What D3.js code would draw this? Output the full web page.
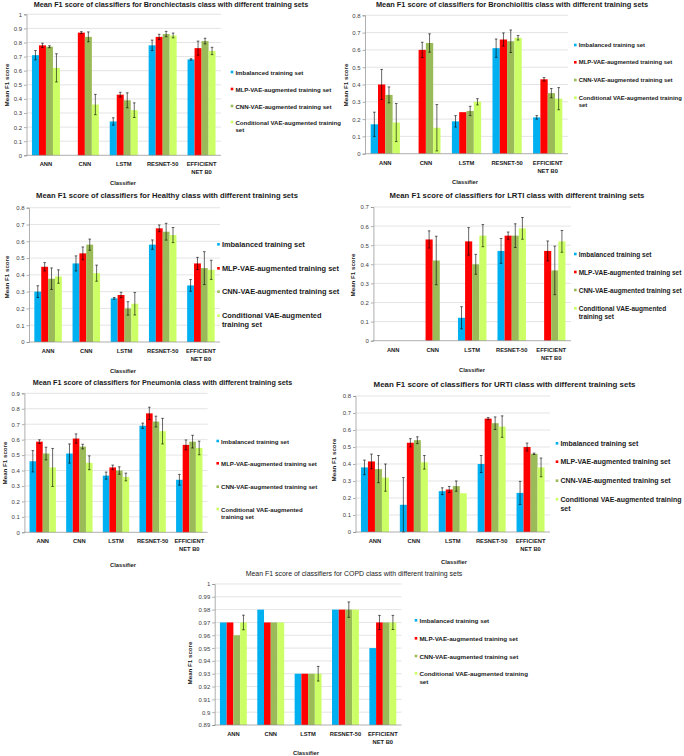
<!DOCTYPE html>
<html><head><meta charset="utf-8">
<script src="https://cdn.jsdelivr.net/npm/d3@7/dist/d3.min.js"></script>
<style>body{margin:0;background:#fff}svg{display:block}text{font-family:"Liberation Sans",Arial,sans-serif}</style>
</head><body><svg id="c" width="684" height="756"></svg>
<script>
const categories = ["ANN","CNN","LSTM","RESNET-50","EFFICIENT NET B0"];
const seriesNames = ["Imbalanced training set","MLP-VAE-augmented training set","CNN-VAE-augmented training set","Conditional VAE-augmented training set"];
const seriesColors = ["#00B0F0","#FF0000","#9BBB59","#CCFF66"];

// rows = series, columns = categories; null = no bar
const bronchiectasisMean = [[0.71,null,0.24,0.78,0.68],[0.78,0.87,0.43,0.84,0.76],[0.77,0.84,0.39,0.86,0.81],[0.62,0.36,0.32,0.85,0.74]];
const bronchiectasisErr  = [[0.033,null,0.026,0.037,0.005],[0.015,0.007,0.017,0.018,0.05],[0.007,0.035,0.053,0.019,0.02],[0.10,0.072,0.052,0.017,0.026]];
const bronchiolitisMean = [[0.17,null,0.187,0.61,0.21],[0.40,0.60,0.24,0.66,0.43],[0.34,0.64,0.247,0.65,0.35],[0.18,0.15,0.30,0.67,0.318]];
const bronchiolitisErr  = [[0.07,null,0.033,0.053,0.01],[0.087,0.044,null,0.038,0.01],[0.046,0.053,0.027,0.065,0.027],[0.11,0.134,0.018,0.013,0.064]];
const healthyMean = [[0.30,0.468,0.26,0.58,0.337],[0.448,0.528,0.28,0.677,0.468],[0.377,0.58,0.20,0.657,0.44],[0.39,0.41,0.228,0.637,0.43]];
const healthyErr  = [[0.035,0.045,0.005,0.028,0.035],[0.025,0.038,0.016,0.02,0.036],[0.064,0.033,0.04,0.05,0.098],[0.04,0.048,0.067,0.045,0.057]];
const lrtiMean = [[null,null,0.12,0.47,null],[null,0.53,0.52,0.55,0.47],[null,0.42,0.40,0.55,0.368],[null,null,0.55,0.588,0.52]];
const lrtiErr  = [[null,null,0.058,0.065,null],[null,0.045,0.072,0.019,0.052],[null,0.127,0.052,0.062,0.127],[null,null,0.058,0.057,0.057]];
const pneumoniaMean = [[0.46,0.51,0.367,0.69,0.34],[0.587,0.607,0.42,0.77,0.566],[0.51,0.555,0.40,0.717,0.587],[0.42,0.45,0.358,0.655,0.546]];
const pneumoniaErr  = [[0.069,0.062,0.023,0.017,0.035],[0.012,0.03,0.015,0.04,0.032],[0.041,0.015,0.024,0.035,0.041],[0.123,0.045,0.025,0.083,0.044]];
const urtiMean = [[0.38,0.16,0.24,0.40,0.23],[0.415,0.525,0.25,0.667,0.50],[0.37,0.54,0.27,0.64,0.46],[0.32,0.41,0.228,0.62,0.38]];
const urtiErr  = [[0.043,0.16,0.02,0.05,0.068],[0.043,0.024,0.018,0.006,0.023],[0.08,0.02,0.03,0.037,0.004],[0.08,0.04,null,0.063,0.055]];
const copdMean = [[0.97,0.98,0.93,0.98,0.95],[0.97,0.97,0.93,0.98,0.97],[0.96,0.97,0.93,0.98,0.97],[0.97,0.97,0.93,0.98,0.97]];
const copdErr  = [[null,null,null,null,null],[null,null,null,null,0.0055],[null,null,null,0.006,null],[0.0057,null,0.0057,null,0.0055]];

const ticks10 = [0,0.1,0.2,0.3,0.4,0.5,0.6,0.7,0.8,0.9,1];
const ticks08 = [0,0.1,0.2,0.3,0.4,0.5,0.6,0.7,0.8];
const ticks07 = [0,0.1,0.2,0.3,0.4,0.5,0.6,0.7];
const ticks09 = [0,0.1,0.2,0.3,0.4,0.5,0.6,0.7,0.8,0.9];
const ticksCopd = [0.89,0.9,0.91,0.92,0.93,0.94,0.95,0.96,0.97,0.98,0.99,1];

const panels = [
 {title:"Mean F1 score of classifiers for Bronchiectasis class with different training sets", mean:bronchiectasisMean, err:bronchiectasisErr, ticks:ticks10,
  clip:[0,0,341,190], x0:26.5,x1:221,yT:14.3,yB:155.3, tx:171,ty:4.5, tw:275, yt:[6.5,85], cl:[123,183], lx:232, lw:68, ly:[72,89,106,122], wrap:"Conditional VAE-augmented training|set"},
 {title:"Mean F1 score of classifiers for Bronchiolitis class with different training sets", mean:bronchiolitisMean, err:bronchiolitisErr, ticks:ticks08,
  clip:[342,0,342,190], x0:365,x1:568,yT:15.3,yB:153.7, tx:512,ty:4.7, tw:273, yt:[345,85], cl:[465,182], lx:575.3, lw:66.5, ly:[45,62.3,80,97.7], wrap:"Conditional VAE-augmented training|set"},
 {title:"Mean F1 score of classifiers for Healthy class with different training sets", mean:healthyMean, err:healthyErr, ticks:ticks08,
  clip:[0,188,341,190], x0:29,x1:220,yT:207.7,yB:342, tx:167,ty:195.7, tw:262, yt:[6.5,277], cl:[123,371], lx:218.5, lw:83, ly:[244.3,268.3,291.7,315.7], wrap:"Conditional VAE-augmented|training set"},
 {title:"Mean F1 score of classifiers for LRTI class with different training sets", mean:lrtiMean, err:lrtiErr, ticks:ticks07,
  clip:[342,188,342,190], x0:373.4,x1:571,yT:207,yB:340.7, tx:517,ty:195, tw:255, yt:[352,275], cl:[472,370], lx:575.3, lw:73, ly:[254,272,290,308.3], wrap:"Conditional VAE-augmented|training set"},
 {title:"Mean F1 score of classifiers for Pneumonia class with different training sets", mean:pneumoniaMean, err:pneumoniaErr, ticks:ticks09,
  clip:[0,376,330,194], x0:24.4,x1:207.6,yT:393.3,yB:532.3, tx:162.5,ty:383, tw:260, yt:[4.5,463], cl:[123,565], lx:217.7, lw:68, ly:[441,463.3,486.7,509], wrap:"Conditional VAE-augmented|training set"},
 {title:"Mean F1 score of classifiers for URTI class with different training sets", mean:urtiMean, err:urtiErr, ticks:ticks08,
  clip:[330,376,354,194], x0:355.5,x1:550,yT:396,yB:532, tx:504.5,ty:384.7, tw:262, yt:[333,460], cl:[454,562], lx:557, lw:78, ly:[443.3,461.7,480.7,499.3], wrap:"Conditional VAE-augmented training|set"},
 {title:"Mean F1 score of classifiers for COPD class with different training sets", mean:copdMean, err:copdErr, ticks:ticksCopd, normalTitle:true,
  clip:[170,568,514,188], x0:214.7,x1:401.5,yT:584,yB:725, tx:354,ty:573.3, tw:217, yt:[189.3,663], cl:[306,753.3], lx:416, lw:70, ly:[620.3,638.3,656,673.3], wrap:"Conditional VAE-augmented training|set"}
];

const svg = d3.select("#c");
const defs = svg.append("defs");
const fmt = v => String(+v.toFixed(2));

// font size that makes a string a given width
function fitSize(str, weight, target){
  const t = svg.append("text").attr("font-size",10).attr("font-weight",weight).text(str);
  const w = t.node().getComputedTextLength(); t.remove();
  return 10*target/w;
}
const catSize = fitSize("RESNET-50","bold",31.5);
const yTitleSize = fitSize("Mean F1 score","bold",43);
const clsSize = fitSize("Classifier","bold",26);
const tickSize = fitSize("0.9","normal",8.3);

panels.forEach((p,pi) => {
  defs.append("clipPath").attr("id","cp"+pi).append("rect")
    .attr("x",p.clip[0]).attr("y",p.clip[1]).attr("width",p.clip[2]).attr("height",p.clip[3]);
  const g = svg.append("g").attr("clip-path",`url(#cp${pi})`);
  const dom = [p.ticks[0], p.ticks[p.ticks.length-1]];
  const y = d3.scaleLinear().domain(dom).range([p.yB,p.yT]);
  const x = d3.scaleBand().domain(categories).range([p.x0,p.x1]).paddingInner(0.28).paddingOuter(0.14);
  const xs = d3.scaleBand().domain(d3.range(4)).range([0,x.bandwidth()]);

  g.append("g").selectAll("line").data(p.ticks.slice(1)).join("line")
    .attr("x1",p.x0).attr("x2",p.x1).attr("y1",d=>y(d)).attr("y2",d=>y(d))
    .attr("stroke","#d9d9d9").attr("stroke-width",0.7);

  const ya = g.append("g").attr("transform",`translate(${p.x0},0)`)
    .call(d3.axisLeft(y).tickValues(p.ticks).tickFormat(fmt).tickSize(2.5).tickPadding(2));
  ya.select(".domain").attr("stroke","#8c8c8c").attr("stroke-width",0.7);
  ya.selectAll(".tick line").attr("stroke","#8c8c8c").attr("stroke-width",0.7);
  ya.selectAll("text").attr("font-size",tickSize).attr("fill","#404040");

  p.mean.forEach((row,si) => {
    const data = row.map((v,ci)=>({v,e:p.err[si][ci],c:categories[ci]})).filter(d=>d.v!=null);
    g.append("g").selectAll("rect").data(data).join("rect")
      .attr("x",d=>x(d.c)+xs(si)).attr("width",xs.bandwidth())
      .attr("y",d=>y(d.v)).attr("height",d=>p.yB-y(d.v))
      .attr("fill",seriesColors[si]);
  });
  p.mean.forEach((row,si) => {
    const data = row.map((v,ci)=>({v,e:p.err[si][ci],c:categories[ci]})).filter(d=>d.v!=null && d.e);
    const eg = g.append("g").attr("stroke","#000").attr("stroke-width",0.6);
    data.forEach(d => {
      const cx = x(d.c)+xs(si)+xs.bandwidth()/2;
      const lo = y(Math.max(dom[0], d.v-d.e)), hi = y(d.v+d.e);
      eg.append("line").attr("x1",cx).attr("x2",cx).attr("y1",lo).attr("y2",hi);
      eg.append("line").attr("x1",cx-1.3).attr("x2",cx+1.3).attr("y1",lo).attr("y2",lo);
      eg.append("line").attr("x1",cx-1.3).attr("x2",cx+1.3).attr("y1",hi).attr("y2",hi);
    });
  });

  g.append("line").attr("x1",p.x0).attr("x2",p.x1).attr("y1",p.yB).attr("y2",p.yB)
    .attr("stroke","#8c8c8c").attr("stroke-width",0.7);

  categories.forEach(c => {
    const lines = c==="EFFICIENT NET B0" ? ["EFFICIENT","NET B0"] : [c];
    const t = g.append("text").attr("x",x(c)+x.bandwidth()/2).attr("y",p.yB+9)
      .attr("text-anchor","middle").attr("font-size",catSize).attr("font-weight","bold").attr("fill","#1a1a1a");
    lines.forEach((l,i)=>t.append("tspan").attr("x",x(c)+x.bandwidth()/2).attr("dy",i?"1.35em":0).attr("dominant-baseline","central").text(l));
  });

  const tWeight = p.normalTitle?"normal":"bold";
  g.append("text").attr("x",p.tx).attr("y",p.ty).attr("text-anchor","middle").attr("dominant-baseline","central")
    .attr("font-size",fitSize(p.title,tWeight,p.tw)).attr("font-weight",tWeight).attr("fill","#1a1a1a").text(p.title);
  g.append("text").attr("transform",`translate(${p.yt[0]},${p.yt[1]}) rotate(-90)`).attr("text-anchor","middle")
    .attr("dominant-baseline","central").attr("font-size",yTitleSize).attr("font-weight","bold").attr("fill","#1a1a1a").text("Mean F1 score");
  g.append("text").attr("x",p.cl[0]).attr("y",p.cl[1]).attr("text-anchor","middle").attr("dominant-baseline","central")
    .attr("font-size",clsSize).attr("font-weight","bold").attr("fill","#1a1a1a").text("Classifier");

  const lSize = fitSize(seriesNames[0],"bold",p.lw);
  seriesNames.forEach((s,si) => {
    const ly = p.ly[si];
    g.append("rect").attr("x",p.lx-1.3).attr("y",ly-1.3).attr("width",2.6).attr("height",2.6).attr("fill",seriesColors[si]);
    const lines = si===3 ? p.wrap.split("|") : [s];
    const t = g.append("text").attr("font-size",lSize).attr("font-weight","bold").attr("fill","#1a1a1a");
    lines.forEach((l,i)=>t.append("tspan").attr("x",p.lx+3.4).attr("y",ly+i*lSize*1.25).attr("dominant-baseline","central").text(l));
  });
});
</script></body></html>
